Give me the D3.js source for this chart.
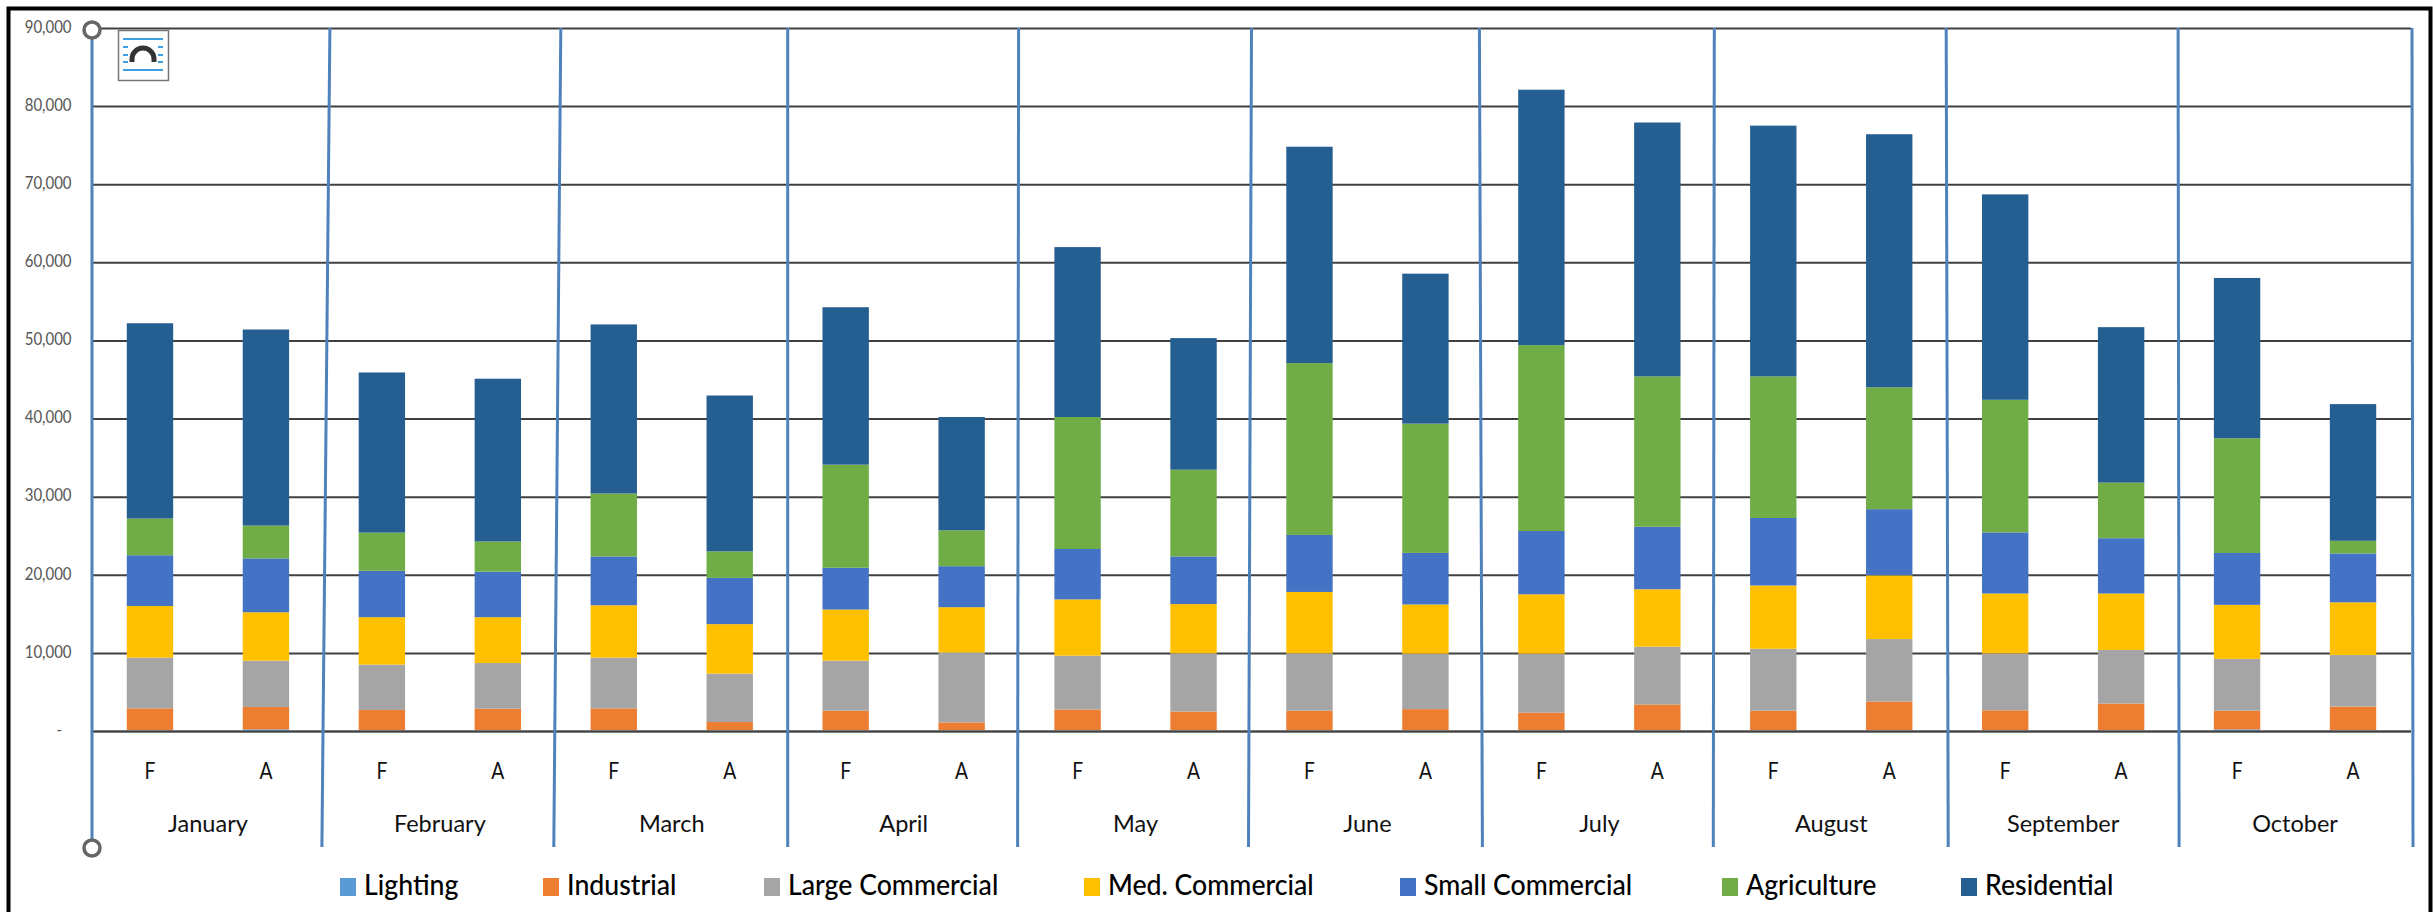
<!DOCTYPE html>
<html>
<head>
<meta charset="utf-8">
<script src="https://cdn.jsdelivr.net/npm/d3@7"></script>
<style>
  html, body { margin: 0; padding: 0; background: #fff; }
  text { font-family: Lato, "Open Sans", sans-serif; }
</style>
</head>
<body>
<svg id="chart" width="2433" height="912"></svg>
<script>
// Monthly energy, forecast (F) against actual (A), stacked by customer class.
const months = ["January","February","March","April","May","June","July","August","September","October"];
const scenarios = ["F","A"];
const classes = ["Lighting","Industrial","Large Commercial","Med. Commercial","Small Commercial","Agriculture","Residential"];
const classColors = ["#5b9bd5","#ed7d31","#a5a5a5","#ffc000","#4472c4","#70ad47","#255e91"];
const yTicks = [0,10000,20000,30000,40000,50000,60000,70000,80000,90000];

// Each list runs Jan F, Jan A, Feb F, Feb A ... Oct F, Oct A.
const lighting   = [100,200,100,100,100,100,100,100,100,100,100,100,100,100,100,100,100,100,200,100];
const industrial = [2800,2880,2600,2760,2800,1050,2500,1000,2650,2400,2500,2700,2250,3300,2500,3680,2550,3410,2400,3030];
const largeComm  = [6500,5920,5800,5840,6500,6200,6400,8950,6900,7450,7350,7100,7550,7400,7930,7990,7290,6860,6630,6590];
const medComm    = [6600,6200,6070,5870,6700,6330,6550,5800,7200,6300,7850,6300,7600,7350,8100,8160,7660,7230,6920,6750];
const smallComm  = [6500,6900,5930,5830,6250,5920,5350,5250,6450,6100,7300,6600,8100,8000,8640,8470,7830,7080,6640,6260];
const agriculture= [4700,4200,4900,3870,8050,3400,13200,4600,16900,11100,22000,16550,23800,19250,18130,15600,16970,7120,14690,1620];
const residential= [25000,25100,20500,20830,21650,19950,20150,14500,21750,16850,27700,19200,32700,32500,32100,32400,26300,19900,20520,17500];
const seriesValues = [lighting,industrial,largeComm,medComm,smallComm,agriculture,residential];

const plotLeft = 92, plotRight = 2411, plotTop = 28, plotBottom = 731, axisFoot = 847;

const x0 = d3.scaleBand().domain(months).range([plotLeft, plotRight]);
const x1 = d3.scaleBand().domain(scenarios).range([0, x0.bandwidth()]).paddingInner(0.6).paddingOuter(0.3);
const y = d3.scaleLinear().domain([0, 90000]).range([plotBottom, plotTop]);

const svg = d3.select("#chart");

// Condensed lettering: text is squeezed horizontally about its own anchor point.
function squeeze(sel, sx, px, py) {
  sel.attr("x", null).attr("y", null)
     .attr("transform", (d, i, n) => `translate(${px(d, i, n)},${py}) scale(${sx},1)`);
}

// Outer frame, open along the bottom edge of the page.
svg.append("path")
  .attr("d", "M8.5,912V8.5H2430.5V912")
  .attr("fill", "none").attr("stroke", "#000").attr("stroke-width", 4);

// Horizontal gridlines and value labels.
const yAxis = d3.axisLeft(y).tickValues(yTicks)
  .tickSize(-(plotRight - plotLeft))
  .tickFormat(d => d === 0 ? "-" : d3.format(",")(d));
const yG = svg.append("g").attr("transform", `translate(${plotLeft},0)`).call(yAxis);
yG.select(".domain").remove();
yG.selectAll(".tick line").attr("stroke", "#404040").attr("stroke-width", 2);
yG.selectAll(".tick text")
  .attr("fill", "#555").attr("font-size", 17).attr("dy", null)
  .attr("dominant-baseline", "middle")
  .call(squeeze, 0.88, d => d === 0 ? -30 : -20.5, 0);

// Stacked columns.
const rows = d3.range(months.length * scenarios.length);
const stack = d3.stack().keys(d3.range(classes.length)).value((i, k) => seriesValues[k][i]);
svg.append("g").selectAll("g").data(stack(rows)).join("g")
  .attr("fill", s => classColors[s.key])
  .selectAll("rect").data(s => s).join("rect")
  .attr("x", d => x0(months[Math.floor(d.data / 2)]) + x1(scenarios[d.data % 2]))
  .attr("width", x1.bandwidth())
  .attr("y", d => y(d[1]))
  .attr("height", d => y(d[0]) - y(d[1]));

// Baseline sits over the feet of the columns.
svg.append("line")
  .attr("x1", plotLeft).attr("x2", plotRight).attr("y1", y(0) + .5).attr("y2", y(0) + .5)
  .attr("stroke", "#404040").attr("stroke-opacity", .75).attr("stroke-width", 2);

// Month separators; small per-line offsets keep them slightly out of true.
const topLean = [0,6,5,0,-1,0,-4,-1,-1,-1,1];
const footLean = [0,-2,-2,0,-2,-3,-1,-2,1,0,2];
const separators = [...months.map(m => x0(m)), plotRight];
svg.append("g").selectAll("line").data(separators).join("line")
  .attr("x1", (d, i) => d + topLean[i]).attr("y1", plotTop)
  .attr("x2", (d, i) => d + footLean[i]).attr("y2", axisFoot)
  .attr("stroke", "#4f81bd").attr("stroke-width", 3);

// Forecast / actual labels and month labels.
const monthG = svg.append("g").selectAll("g").data(months).join("g")
  .attr("transform", d => `translate(${x0(d)},0)`);
monthG.selectAll("text.scn").data(scenarios).join("text").attr("class", "scn")
  .attr("text-anchor", "middle").attr("font-size", 24).attr("fill", "#111")
  .text(d => d)
  .call(squeeze, 0.8, d => x1(d) + x1.bandwidth() / 2, 779);
monthG.append("text").attr("class", "month")
  .attr("text-anchor", "middle").attr("font-size", 24).attr("fill", "#111")
  .text(d => d)
  .call(squeeze, 0.98, () => x0.bandwidth() / 2, 832);

// Selection handles on the chart object.
svg.append("g").selectAll("circle").data([plotTop + 2, axisFoot + 1]).join("circle")
  .attr("cx", plotLeft).attr("cy", d => d).attr("r", 8)
  .attr("fill", "#fff").attr("stroke", "#666").attr("stroke-width", 3.5);

// Layout-options button.
const button = svg.append("g").attr("transform", "translate(118,30)");
button.append("rect").attr("x", .5).attr("y", .5).attr("width", 50).attr("height", 50)
  .attr("fill", "#fff").attr("stroke", "#777").attr("stroke-width", 1.5);
[9,40].forEach(ly => {
  button.append("line").attr("x1", 5).attr("x2", 45).attr("y1", ly).attr("y2", ly)
    .attr("stroke", "#3fa0e0").attr("stroke-width", 2);
});
[17,25,32].forEach(ly => {
  [[5,10],[40,45]].forEach(([a,b]) => button.append("line")
    .attr("x1", a).attr("x2", b).attr("y1", ly).attr("y2", ly)
    .attr("stroke", "#3fa0e0").attr("stroke-width", 2));
});
button.append("path").attr("d", "M14,32V29A11,11 0 0 1 36,29V32")
  .attr("fill", "none").attr("stroke", "#333").attr("stroke-width", 5);

// Legend along the foot of the chart.
const legendX = [340,543,764,1084,1400,1722,1961];
const legend = svg.append("g").selectAll("g").data(classes).join("g")
  .attr("transform", (d, i) => `translate(${legendX[i]},887)`);
legend.append("rect").attr("x", 0).attr("y", -9).attr("width", 16).attr("height", 18)
  .attr("fill", (d, i) => classColors[i]);
legend.append("text")
  .attr("font-size", 29).attr("fill", "#000").attr("font-weight", 500)
  .text(d => d)
  .call(squeeze, 0.92, () => 24, 8);
</script>
</body>
</html>
